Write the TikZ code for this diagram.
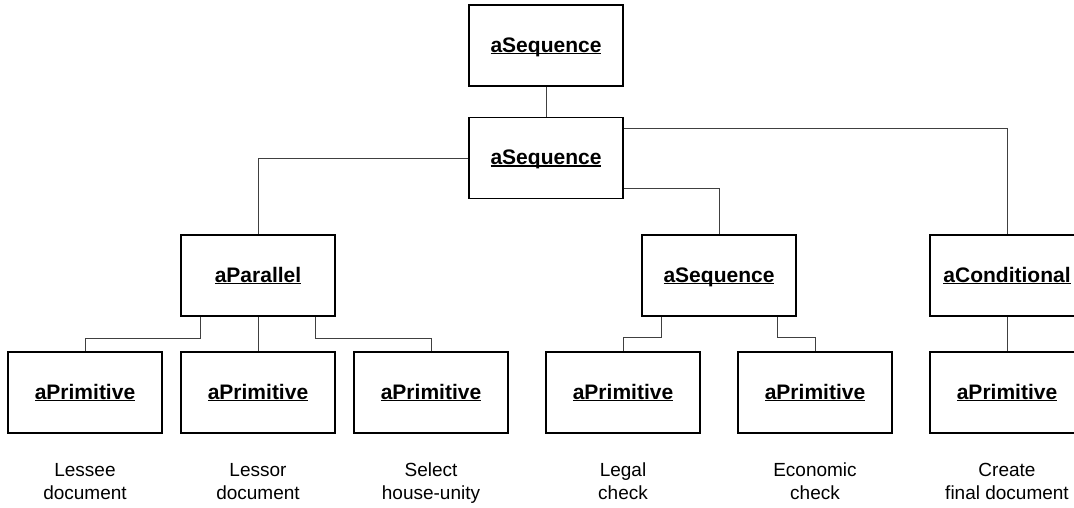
\documentclass[tikz,border=0pt]{standalone}
\usepackage{fontspec}
\setmainfont{Liberation Sans}
\usetikzlibrary{positioning}
\newcommand\objname[1]{\setbox0\hbox{#1}\rlap{\rule[-2.2pt]{\wd0}{1.3pt}}\box0}
\tikzset{
  obj/.style={draw, line width=1.6pt, minimum width=154pt, minimum height=81pt,
    inner sep=0pt, text height=14pt, text depth=1pt,
    font=\fontsize{21}{25}\selectfont\bfseries},
  link/.style={draw=black!75, line width=1pt},
  task/.style={align=center, inner sep=0pt, anchor=north,
    font=\fontsize{19}{23}\selectfont}
}
\begin{document}
\begin{tikzpicture}[x=1pt, y=-1pt]
    \useasboundingbox (0,0) rectangle (1074,507);
    % Boxes
    \node[obj] (top) at (546,45.5) {\objname{aSequence}};
    \node[obj] (seq) at (546,158) {\objname{aSequence}};
    \node[obj] (par) at (258,275.5) {\objname{aParallel}};
    \node[obj] (chk) at (719,275.5) {\objname{aSequence}};
    \node[obj] (cond) at (1007,275.5) {\objname{aConditional}};
    \foreach \name/\x in {p1/85, p2/258, p3/431, p4/623, p5/815, p6/1007}
      \node[obj] (\name) at (\x,392.5) {\objname{aPrimitive}};
    % Connectors
    \draw[link] (top.south) -- (seq.north);
    \draw[link] (seq.west) -| (par.north);
    \draw[link] ([yshift=30pt]seq.east) -| (cond.north);
    \draw[link] ([yshift=-30pt]seq.east) -| (chk.north);
    \draw[link] ([xshift=-58pt]par.south) -- ++(0,22) -| (p1.north);
    \draw[link] (par.south) -- (p2.north);
    \draw[link] ([xshift=57pt]par.south) -- ++(0,22) -| (p3.north);
    \draw[link] ([xshift=-58pt]chk.south) -- ++(0,21) -| (p4.north);
    \draw[link] ([xshift=58pt]chk.south) -- ++(0,21) -| (p5.north);
    \draw[link] (cond.south) -- (p6.north);
    % Labels
    \node[task, below=29pt of p1] (t1) {Lessee\\document};
    \node[task, below=29pt of p2] (t2) {Lessor\\document};
    \node[task, below=29pt of p3] (t3) {Select\\house-unity};
    \node[task, below=29pt of p4] (t4) {Legal\\check};
    \node[task, below=29pt of p5] (t5) {Economic\\check};
    \node[task, below=29pt of p6] (t6) {Create\\final document};
\end{tikzpicture}
\end{document}
